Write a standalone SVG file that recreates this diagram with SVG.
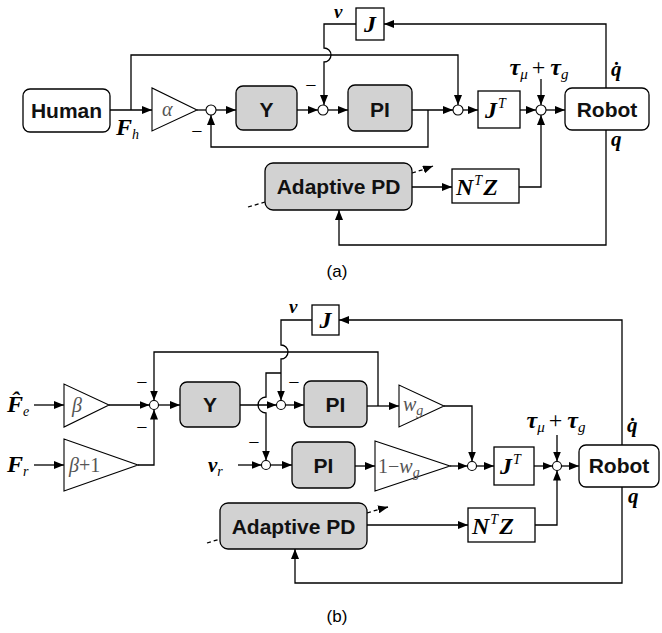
<svg xmlns="http://www.w3.org/2000/svg" width="662" height="633" viewBox="0 0 662 633">
  <defs>
    <marker id="arr" viewBox="0 0 10 8" refX="10" refY="4" markerWidth="10" markerHeight="8" markerUnits="userSpaceOnUse" orient="auto">
      <path d="M0,0 L10,4 L0,8 z" fill="#000"/>
    </marker>
    <style>
      .box { fill: #fff; stroke: #000; stroke-width: 1.3; }
      .blk { fill: #d2d2d2; stroke: #000; stroke-width: 1.3; }
      .gain { fill: #fff; stroke: #000; stroke-width: 1.1; }
      .sum { fill: #fff; stroke: #000; stroke-width: 1.1; }
      .w { fill: none; stroke: #000; stroke-width: 1.3; }
      .wa { fill: none; stroke: #000; stroke-width: 1.3; marker-end: url(#arr); }
      .dash { fill: none; stroke: #000; stroke-width: 1.3; stroke-dasharray: 4 3; }
      .lbl { font-family: "Liberation Sans", Arial, sans-serif; font-weight: bold; font-size: 21px; text-anchor: middle; fill: #111; }
      .m { font-family: "Liberation Serif", "Times New Roman", serif; font-style: italic; font-weight: bold; font-size: 21px; fill: #000; }
      .big { font-size: 24px; }
      .sm { font-size: 19px; }
      .mr { font-family: "Liberation Serif", "Times New Roman", serif; font-style: italic; font-size: 20px; fill: #555; }
      .sub { font-size: 14px; font-weight: normal; }
      .tsub { font-size: 15px; font-weight: normal; }
      .plus { font-style: normal; font-weight: normal; font-size: 24px; }
      .neg { font-family: "Liberation Serif", serif; font-size: 20px; fill: #000; text-anchor: middle; }
      .cap { font-family: "Liberation Sans", Arial, sans-serif; font-size: 17px; fill: #000; text-anchor: middle; }
    </style>
  </defs>
  <rect width="662" height="633" fill="#fff"/>

  <!-- ===================== (a) ===================== -->
  <g id="a-connectors">
    <path class="wa" d="M110,110 H152"/>
    <path class="wa" d="M131,110 V55 H458 V105"/>
    <path class="w" d="M197,110 H206"/>
    <path class="wa" d="M216,110 H236"/>
    <path class="wa" d="M297,110 H318"/>
    <path class="wa" d="M328,110 H348"/>
    <path class="wa" d="M412,110 H453"/>
    <path class="wa" d="M428,110 V147 H211 V115"/>
    <path class="wa" d="M606,88 V24 H384"/>
    <path class="wa" d="M356,24 H324 V48 A7,7 0 0 1 324,62 V105"/>
    <path class="wa" d="M463,110 H478"/>
    <path class="wa" d="M520,110 H536"/>
    <path class="wa" d="M546,110 H565"/>
    <path class="wa" d="M541,79 V105"/>
    <path class="wa" d="M519,187 H541 V115"/>
    <path class="wa" d="M412,187 H452"/>
    <path class="wa" d="M606,130 V245 H339 V210"/>
    <path class="dash" d="M412,173 L425,169" />
    <path class="wa" d="M425,169 L433,166"/>
    <path class="dash" d="M248,207 L265,202"/>
  </g>

  <g id="a-human">
    <rect class="box" x="23" y="89" width="87" height="43" rx="7"/>
    <text class="lbl" x="66.5" y="118">Human</text>
  </g>
  <g id="a-alpha">
    <polygon class="gain" points="152,88 152,131 197,110"/>
    <text class="mr" x="162" y="116">α</text>
  </g>
  <g id="a-sum1"><circle class="sum" cx="211" cy="110" r="5"/></g>
  <g id="a-Y">
    <rect class="blk" x="236" y="86" width="61" height="44" rx="7"/>
    <text class="lbl" x="266.5" y="117">Y</text>
  </g>
  <g id="a-sum2"><circle class="sum" cx="323" cy="110" r="5"/></g>
  <g id="a-PI">
    <rect class="blk" x="348" y="85" width="64" height="46" rx="7"/>
    <text class="lbl" x="380" y="117">PI</text>
  </g>
  <g id="a-sum3"><circle class="sum" cx="458" cy="110" r="5"/></g>
  <g id="a-J">
    <rect class="box" x="356" y="8" width="28" height="32"/>
    <text class="m big" x="370" y="32" text-anchor="middle">J</text>
  </g>
  <g id="a-JT">
    <rect class="box" x="478" y="91" width="42" height="37"/>
    <text class="m big" x="485" y="118">J<tspan class="sub" dy="-10" dx="1">T</tspan></text>
  </g>
  <g id="a-sum4"><circle class="sum" cx="541" cy="110" r="5"/></g>
  <g id="a-robot">
    <rect class="box" x="565" y="88" width="84" height="42" rx="7"/>
    <text class="lbl" x="607" y="117">Robot</text>
  </g>
  <g id="a-adpd">
    <rect class="blk" x="265" y="163" width="147" height="47" rx="8"/>
    <text class="lbl" x="338.5" y="194">Adaptive PD</text>
  </g>
  <g id="a-NTZ">
    <rect class="box" x="452" y="169" width="67" height="34"/>
    <text class="m big" x="456" y="195">N<tspan class="sub" dy="-10" dx="1">T</tspan><tspan dy="10" dx="1">Z</tspan></text>
  </g>
  <g id="a-labels">
    <text class="m big" x="116" y="135">F<tspan class="sub" dy="4">h</tspan></text>
    <text class="m sm" x="334" y="18">v</text>
    <text class="m big" x="539" y="75" text-anchor="middle">τ<tspan class="tsub" dy="4">μ</tspan><tspan class="plus" dy="-4" dx="4">+</tspan><tspan dx="5">τ</tspan><tspan class="tsub" dy="4">g</tspan></text>
    <text class="m" x="611" y="76">q&#x307;</text>
    <text class="m" x="611" y="146">q</text>
    <text class="neg" x="197" y="138">−</text>
    <text class="neg" x="311" y="92">−</text>
    <text class="cap" x="337" y="277">(a)</text>
  </g>

  <!-- ===================== (b) ===================== -->
  <g id="b-connectors">
    <path class="wa" d="M34,405 H64"/>
    <path class="wa" d="M109,405 H149.5"/>
    <path class="wa" d="M34,465 H64"/>
    <path class="wa" d="M138,465 H154 V409.5"/>
    <path class="wa" d="M378,406 V352 H154 V400.5"/>
    <path class="wa" d="M158.5,405 H180"/>
    <path class="wa" d="M240,405 H276.5"/>
    <path class="wa" d="M622,445 V320 H339"/>
    <path class="wa" d="M312,320 H281 V345 A7,7 0 0 1 281,359 V400.5"/>
    <path class="wa" d="M281,373 H266 V397 A8,8 0 0 0 266,413 V460.5"/>
    <path class="wa" d="M285.5,405 H304"/>
    <path class="wa" d="M367,406 H399"/>
    <path class="wa" d="M444,406 H472 V461.5"/>
    <path class="wa" d="M238,465 H261.5"/>
    <path class="wa" d="M270.5,465 H292"/>
    <path class="wa" d="M355,466 H375"/>
    <path class="wa" d="M450,466 H467.5"/>
    <path class="wa" d="M476.5,466 H494"/>
    <path class="wa" d="M534,466 H552.5"/>
    <path class="wa" d="M561.5,466 H579"/>
    <path class="wa" d="M557,435 V461.5"/>
    <path class="wa" d="M535,525 H557 V470.5"/>
    <path class="wa" d="M367,525 H468"/>
    <path class="wa" d="M622,487 V583 H295 V549"/>
    <path class="dash" d="M367,513 L380,509"/>
    <path class="wa" d="M380,509 L388,507"/>
    <path class="dash" d="M207,543 L220,539"/>
  </g>

  <g id="b-beta">
    <polygon class="gain" points="64,384 64,427 109,405"/>
    <text class="mr" x="72" y="412">β</text>
  </g>
  <g id="b-beta1">
    <polygon class="gain" points="64,439 64,491 138,465"/>
    <text class="mr" x="69" y="472">β<tspan font-style="normal">+1</tspan></text>
  </g>
  <g id="b-sumA"><circle class="sum" cx="154" cy="405" r="4.5"/></g>
  <g id="b-Y">
    <rect class="blk" x="180" y="382" width="60" height="45" rx="7"/>
    <text class="lbl" x="210" y="412">Y</text>
  </g>
  <g id="b-sumB"><circle class="sum" cx="281" cy="405" r="4.5"/></g>
  <g id="b-sumC"><circle class="sum" cx="266" cy="465" r="4.5"/></g>
  <g id="b-J">
    <rect class="box" x="312" y="305" width="27" height="30"/>
    <text class="m big" x="325.5" y="328" text-anchor="middle">J</text>
  </g>
  <g id="b-PI1">
    <rect class="blk" x="304" y="381" width="63" height="46" rx="7"/>
    <text class="lbl" x="335.5" y="412">PI</text>
  </g>
  <g id="b-wg">
    <polygon class="gain" points="399,385 399,427 444,406"/>
    <text class="mr" x="403" y="411">w<tspan class="sub" dy="4">g</tspan></text>
  </g>
  <g id="b-PI2">
    <rect class="blk" x="292" y="442" width="63" height="46" rx="7"/>
    <text class="lbl" x="323.5" y="473">PI</text>
  </g>
  <g id="b-1wg">
    <polygon class="gain" points="375,441 375,491 450,466"/>
    <text class="mr" x="378" y="473"><tspan font-style="normal">1−</tspan>w<tspan class="sub" dy="4">g</tspan></text>
  </g>
  <g id="b-sumD"><circle class="sum" cx="472" cy="466" r="4.5"/></g>
  <g id="b-JT">
    <rect class="box" x="494" y="447" width="40" height="38"/>
    <text class="m big" x="500" y="474">J<tspan class="sub" dy="-10" dx="1">T</tspan></text>
  </g>
  <g id="b-sumE"><circle class="sum" cx="557" cy="466" r="4.5"/></g>
  <g id="b-robot">
    <rect class="box" x="579" y="445" width="80" height="42" rx="7"/>
    <text class="lbl" x="619" y="473">Robot</text>
  </g>
  <g id="b-adpd">
    <rect class="blk" x="220" y="503" width="147" height="46" rx="8"/>
    <text class="lbl" x="293.5" y="534">Adaptive PD</text>
  </g>
  <g id="b-NTZ">
    <rect class="box" x="468" y="508" width="67" height="34"/>
    <text class="m big" x="472" y="534">N<tspan class="sub" dy="-10" dx="1">T</tspan><tspan dy="10" dx="1">Z</tspan></text>
  </g>
  <g id="b-labels">
    <text class="m big" x="7" y="412">F&#x302;<tspan class="sub" dy="4">e</tspan></text>
    <text class="m big" x="7" y="472">F<tspan class="sub" dy="4">r</tspan></text>
    <text class="m" x="208" y="472">v<tspan class="sub" dy="4">r</tspan></text>
    <text class="m sm" x="289" y="313">v</text>
    <text class="m big" x="556" y="428" text-anchor="middle">τ<tspan class="tsub" dy="4">μ</tspan><tspan class="plus" dy="-4" dx="4">+</tspan><tspan dx="5">τ</tspan><tspan class="tsub" dy="4">g</tspan></text>
    <text class="m" x="627" y="432">q&#x307;</text>
    <text class="m" x="628" y="503">q</text>
    <text class="neg" x="142" y="389">−</text>
    <text class="neg" x="142" y="434">−</text>
    <text class="neg" x="294" y="389">−</text>
    <text class="neg" x="254" y="449">−</text>
    <text class="cap" x="337" y="622">(b)</text>
  </g>
</svg>
